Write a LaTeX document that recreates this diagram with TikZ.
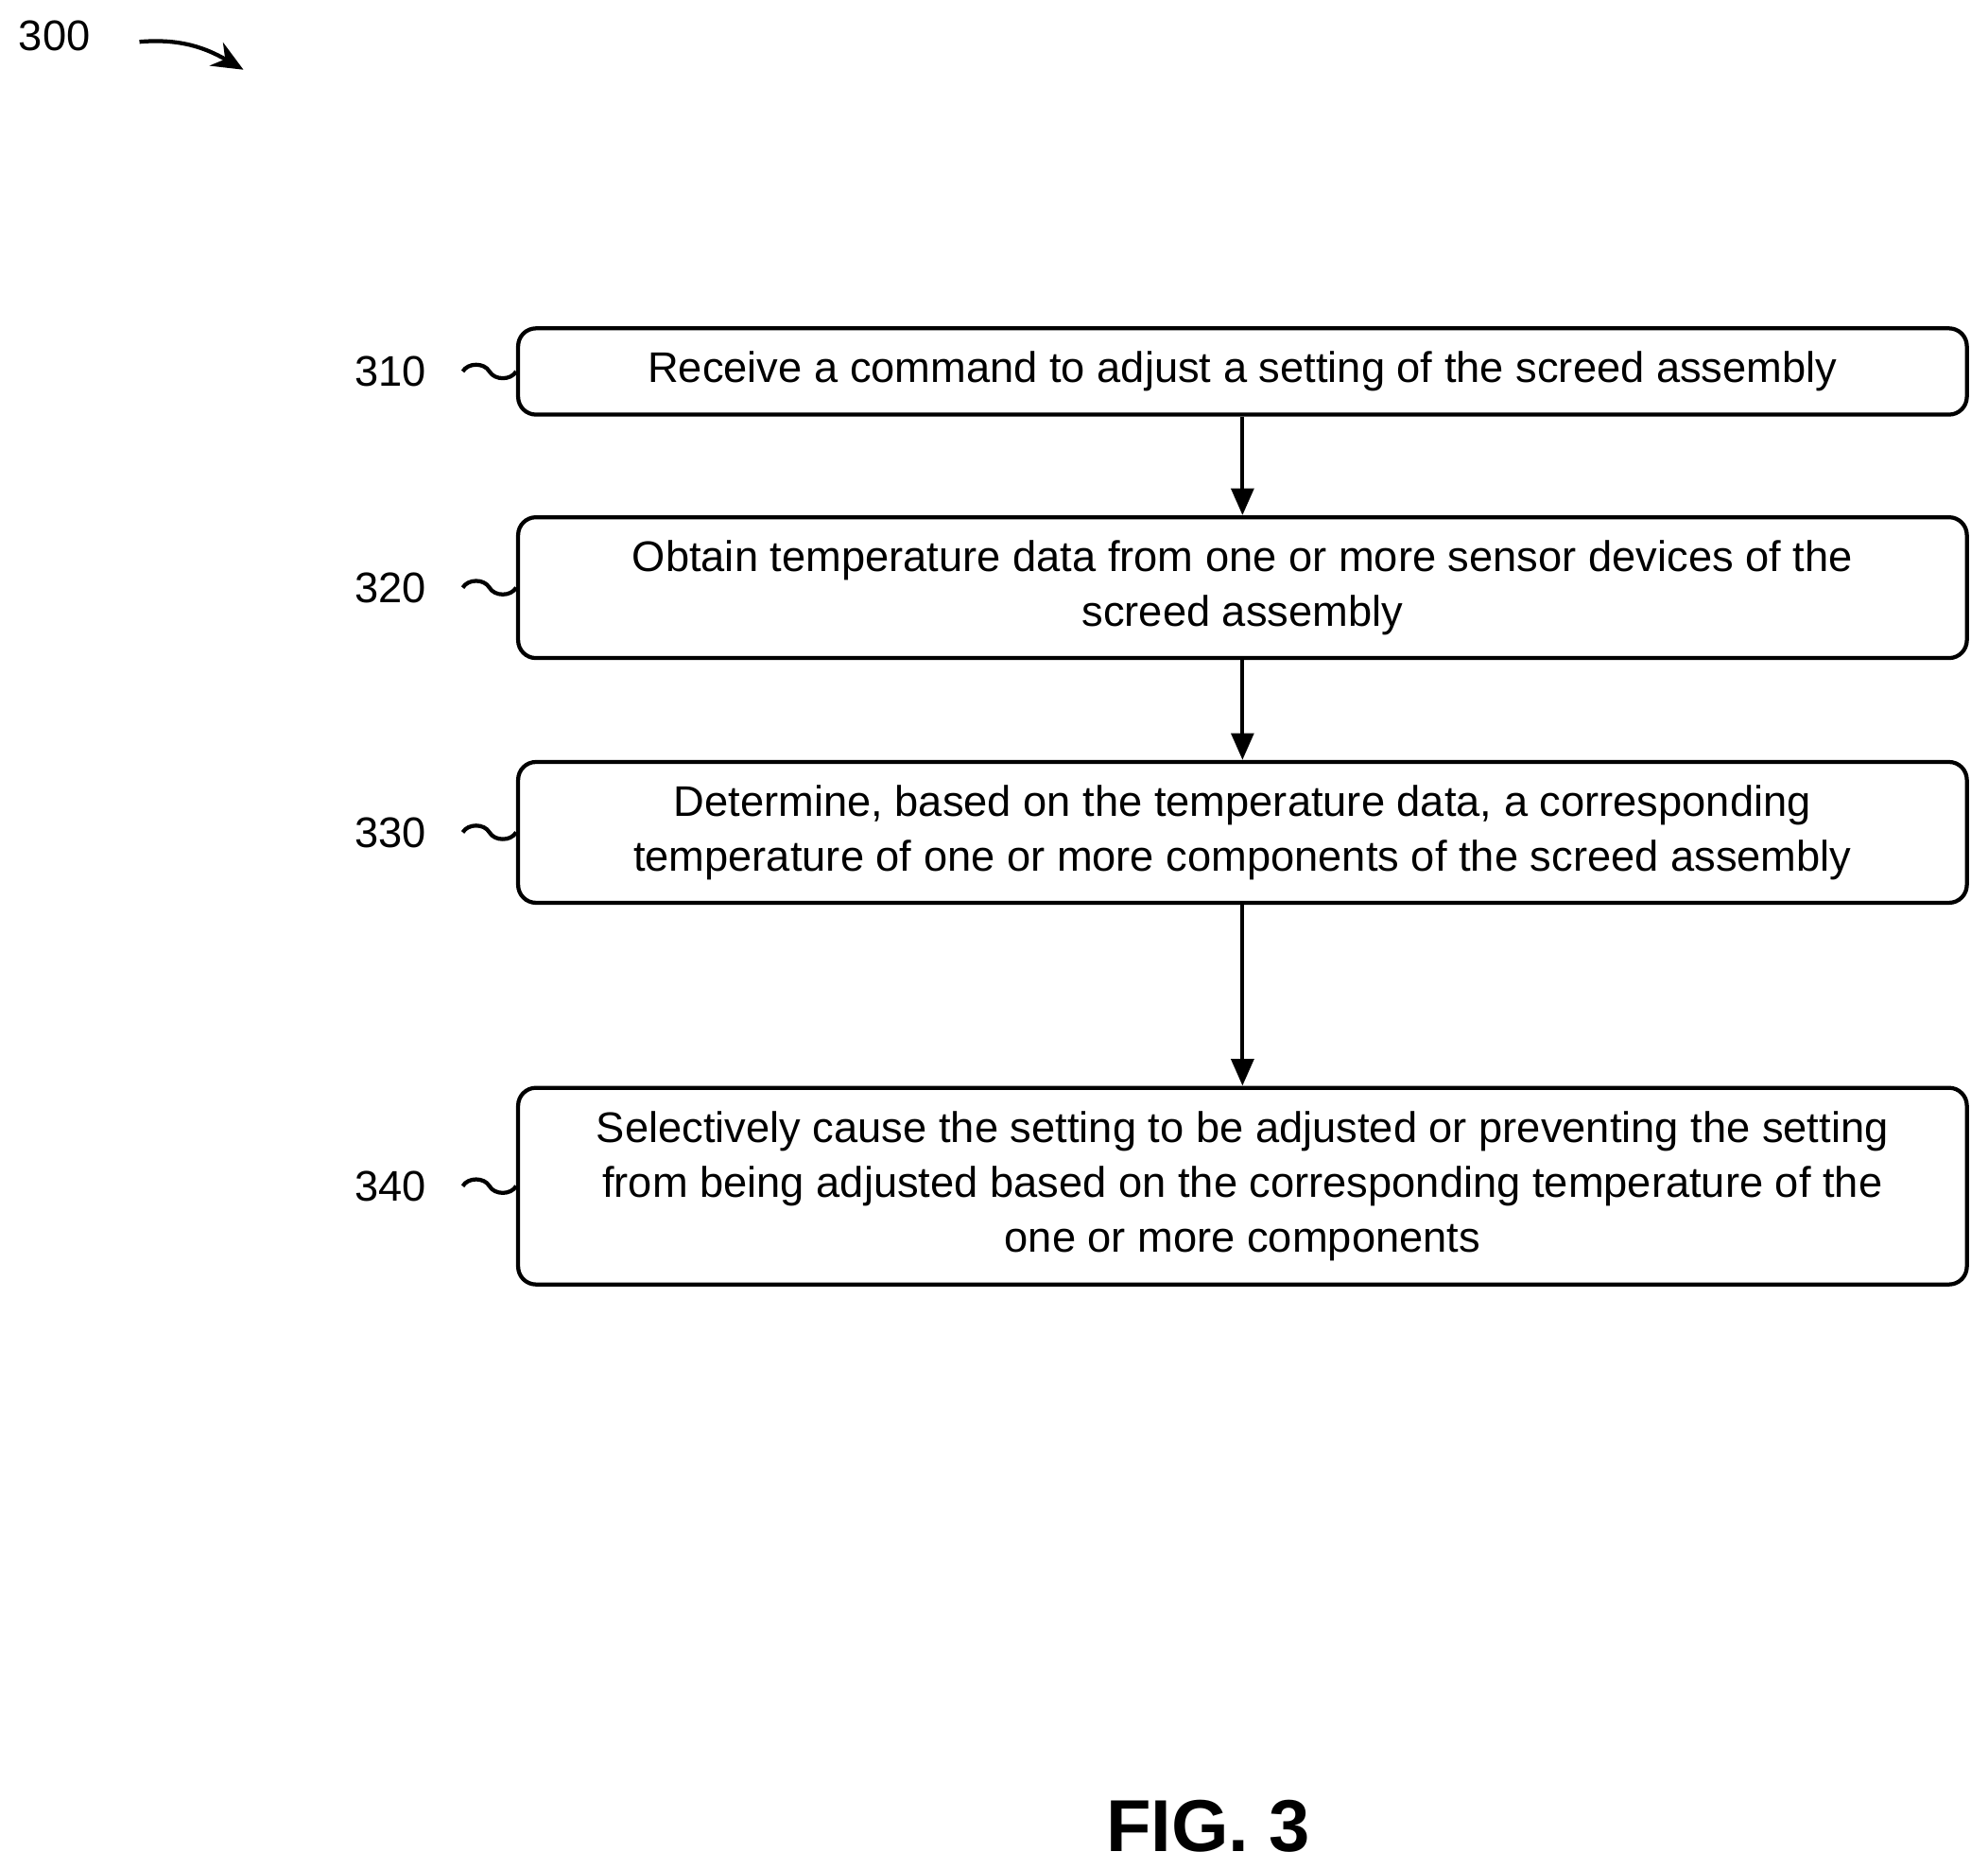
\documentclass[tikz,border=0pt]{standalone}
\usepackage{fontspec}
\setmainfont{Liberation Sans}
\usetikzlibrary{calc,arrows.meta}

\begin{document}
\begin{tikzpicture}[x=0.01cm,y=-0.01cm,
  every node/.style={inner sep=0pt},
  box/.style={draw,line width=0.9pt,rounded corners=4pt,minimum width=11.42cm,
    align=center,font=\fontsize{9.6}{12.3}\selectfont},
  num/.style={font=\fontsize{9.6}{12}\selectfont},
  flow/.style={-{Triangle[length=6pt,width=5pt]},line width=0.9pt}]
\useasboundingbox (0,0) rectangle (1568,1474);
\node[num] (n300) at (43,28) {300};
\draw[line width=0.9pt,-{Stealth[length=7pt,width=6pt]}] (110,33) to[out=5,in=150] (192,55);
% steps
\node[box,minimum height=0.68cm] (s310) at (980,293) {Receive a command to adjust a setting of the screed assembly};
\node[box,minimum height=1.11cm] (s320) at (980,463.5) {Obtain temperature data from one or more sensor devices of the\\screed assembly};
\node[box,minimum height=1.11cm] (s330) at (980,656.5) {Determine, based on the temperature data, a corresponding\\temperature of one or more components of the screed assembly};
\node[box,minimum height=1.55cm] (s340) at (980,935.5) {Selectively cause the setting to be adjusted or preventing the setting\\from being adjusted based on the corresponding temperature of the\\one or more components};
\draw[flow] (s310) -- (s320);
\draw[flow] (s320) -- (s330);
\draw[flow] (s330) -- (s340);
% step numbers
\foreach \k/\y in {310/293,320/463.5,330/656.5,340/935.5}{
  \node[num] (l\k) at (308,\y) {\k};
  \coordinate (t\k) at (365,\y);
  \draw[line width=0.9pt] (t\k) to[out=60,in=120] ($(t\k)!0.5!(s\k.west)$) to[out=-60,in=-120] (s\k.west);
}
\node[font=\fontsize{16.5}{18}\selectfont\bfseries] (fig) at (953,1440) {FIG. 3};
\end{tikzpicture}
\end{document}
